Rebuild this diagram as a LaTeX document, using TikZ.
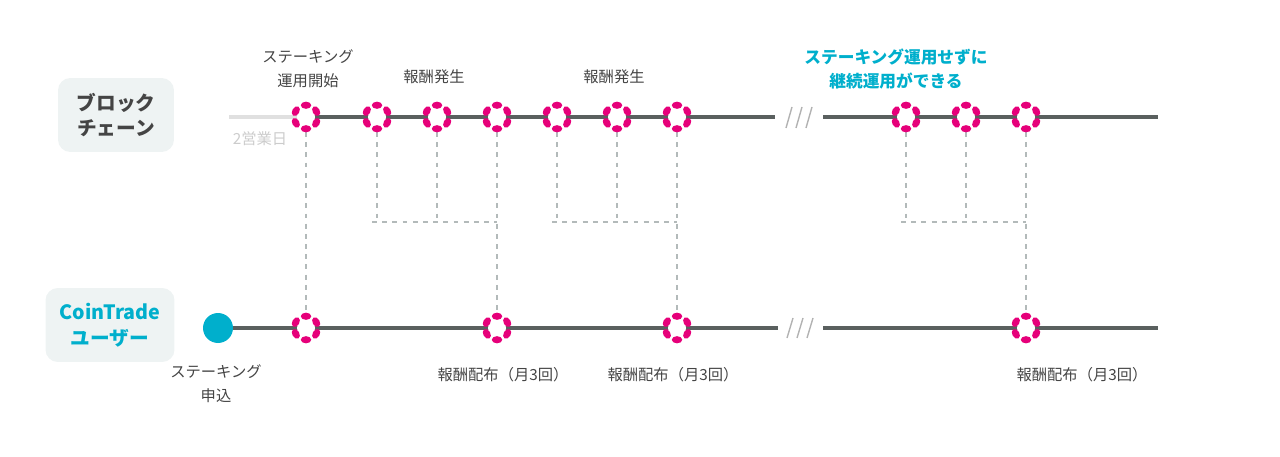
\documentclass[tikz,border=0pt]{standalone}
\usepackage{fontspec}
\setmainfont{Noto Sans CJK JP}
\usepackage{tikz}
\usetikzlibrary{calc}
\definecolor{dotpink}{HTML}{E6007A}
\definecolor{coinblue}{HTML}{00AFCC}
\definecolor{linegray}{HTML}{5A605F}
\definecolor{dashgray}{HTML}{B3BABA}
\definecolor{boxfill}{HTML}{EEF3F3}
\definecolor{labelgray}{HTML}{444444}
\tikzset{
  time line/.style={
    line width=1.9pt,
    draw=linegray
  },
  lead line/.style={
    line width=1.9pt,
    draw=black!12
  },
  link line/.style={
    line width=1.5pt,
    draw=dashgray,
    dash pattern=on 2.8pt off 3.0pt
  },
  break mark/.style={
    line width=0.8pt,
    draw=black!30
  },
  stake dot/.style={
    circle,
    fill=white,
    inner sep=0pt,
    minimum size=0.36cm
  },
  dot petal/.style={
    fill=dotpink
  },
  row box/.style={
    rounded corners=7pt,
    fill=boxfill,
    align=center,
    font=\fontsize{11.2}{14.6}\selectfont\bfseries
  },
  step label/.style={
    align=center,
    text=labelgray,
    font=\fontsize{8.7}{13.6}\selectfont
  }
}

\begin{document}
\begin{tikzpicture}[x=0.02cm, y=-0.02cm]
  \useasboundingbox (0,0) rectangle (1280,456);

  % ---------- 左の見出し ----------
  \node[row box, text=labelgray, minimum width=2.32cm, minimum height=1.48cm]
    (chainbox) at (116,115) {ブロック\\チェーン};
  \node[row box, text=coinblue, minimum width=2.58cm, minimum height=1.48cm]
    (userbox) at (110,325) {CoinTrade\\ユーザー};

  % ---------- ブロックチェーンの時間軸 ----------
  \coordinate (chstart) at (229,117);
  \coordinate (chbreakL) at (775,117);
  \coordinate (chbreakR) at (823,117);
  \coordinate (chend) at (1158,117);

  \foreach \n/\x in {1/306,2/377,3/437,4/497,5/557,6/617,7/677,8/906,9/966,10/1026}{
    \coordinate (ch\n) at (\x,117);
  }

  \draw[lead line] (chstart) -- (ch1);
  \draw[time line] (ch1) -- (chbreakL);
  \draw[time line] (chbreakR) -- (chend);

  % ---------- ユーザーの時間軸 ----------
  \coordinate (usbreakL) at (778,328);
  \coordinate (usbreakR) at (823,328);
  \coordinate (usend) at (1158,328);

  \foreach \n/\x in {1/306,2/497,3/677,4/1026}{
    \coordinate (us\n) at (\x,328);
  }

  \node[circle, fill=coinblue, inner sep=0pt, minimum size=0.6cm] (apply) at (218,328) {};
  \draw[time line] (apply) -- (usbreakL);
  \draw[time line] (usbreakR) -- (usend);

  % 省略の印
  \foreach \x in {789,799,809}{
    \draw[break mark] (\x+3,107) -- (\x-3,128);
    \draw[break mark] (\x+4,318) -- (\x-2,338);
  }

  % ---------- 報酬のつながり ----------
  \foreach \a/\b/\c/\n in {ch2/ch3/ch4/1, ch5/ch6/ch7/2, ch8/ch9/ch10/3}{
    \coordinate (j\n) at ($(\a)+(-5,105)$);
    \draw[link line] ([yshift=-0.3cm]\a) -- (\a|-j\n);
    \draw[link line] ([yshift=-0.3cm]\b) -- (\b|-j\n);
    \draw[link line] (j\n) -- (\c|-j\n);
  }
  \draw[link line] ([yshift=-0.3cm]ch1) -- ([yshift=0.26cm]us1);
  \draw[link line] ([yshift=-0.3cm]ch4) -- ([yshift=0.26cm]us2);
  \draw[link line] ([yshift=-0.3cm]ch7) -- ([yshift=0.26cm]us3);
  \draw[link line] ([yshift=-0.3cm]ch10) -- ([yshift=0.26cm]us4);

  % ---------- 報酬の印 ----------
  \foreach \p in {ch1,ch2,ch3,ch4,ch5,ch6,ch7,ch8,ch9,ch10,us1,us2,us3,us4}{
    \node[stake dot] (dot-\p) at (\p) {};
    \begin{scope}[shift={(\p)}]
      \foreach \a in {30,90,...,330}{
        \fill[dot petal, rotate=\a] (0.235cm,0cm) ellipse[x radius=0.072cm, y radius=0.105cm];
      }
    \end{scope}
  }

  % ---------- ラベル ----------
  \node[step label] (startlbl) at (308,69) {ステーキング\\運用開始};
  \node[step label] (gen1) at (434,77) {報酬発生};
  \node[step label] (gen2) at (614,77) {報酬発生};
  \node[step label, text=coinblue, font=\fontsize{9.5}{13.6}\selectfont\bfseries]
    (keeplbl) at (896,69) {ステーキング運用せずに\\継続運用ができる};
  \node[step label, text=black!20] (dayslbl) at (260,139) {2営業日};

  \node[step label] (applylbl) at (216,384) {ステーキング\\申込};
  \node[step label] (pay1) at (503,375) {報酬配布（月3回）};
  \node[step label] (pay2) at (673,375) {報酬配布（月3回）};
  \node[step label] (pay3) at (1082,375) {報酬配布（月3回）};

\end{tikzpicture}
\end{document}
